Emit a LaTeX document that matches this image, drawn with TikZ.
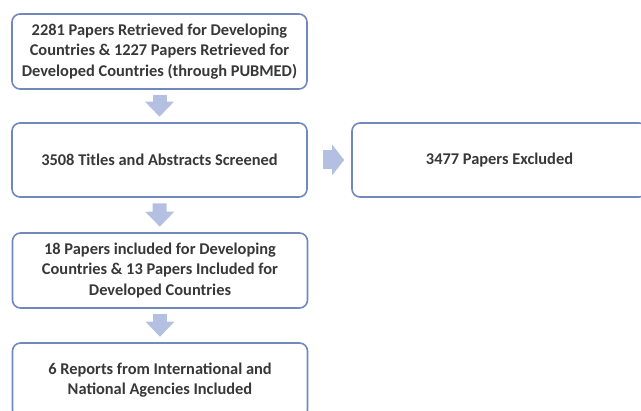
\documentclass[tikz,border=0pt]{standalone}
\usepackage{fontspec}
\setmainfont{Carlito}
\usetikzlibrary{arrows.meta}
\definecolor{boxline}{HTML}{7088BE}
\definecolor{flowfill}{HTML}{B3C0E2}
\definecolor{boxtext}{HTML}{383838}
\begin{document}
\begin{tikzpicture}[x=1pt, y=-1pt,
    stage/.style={draw=boxline, line width=1.6pt, rounded corners=8pt, fill=white,
      minimum width=295pt, minimum height=75pt, align=center, text=boxtext,
      font=\fontsize{16.4}{20.2}\selectfont\bfseries, inner sep=0pt},
    flow/.style={flowfill, line width=14pt, -{Triangle[width=28pt,length=15pt]},
      shorten <=5.5pt, shorten >=5.5pt}]
  \useasboundingbox (0,0) rectangle (641,411);
  \node[stage] (retrieved) at (159.5,51.5) {2281 Papers Retrieved for Developing\\Countries \& 1227 Papers Retrieved for\\Developed Countries (through PUBMED)};
  \node[stage, minimum height=74pt] (screened) at (159.5,160) {3508 Titles and Abstracts Screened};
  \node[stage, minimum height=74pt] (excluded) at (499.5,160) {3477 Papers Excluded};
  \node[stage] (included) at (160,270.5) {18 Papers included for Developing\\Countries \& 13 Papers Included for\\Developed Countries};
  \node[stage] (reports) at (160,380.5) {6 Reports from International and\\National Agencies Included};
  % block arrows between the stages
  \draw[flow] (retrieved) -- (screened);
  \draw[flow] (screened) -- (included);
  \draw[flow] (included) -- (reports);
  \draw[flow, line width=19pt, -{Triangle[width=30pt,length=12pt]}, shorten <=15pt, shorten >=7pt] (screened) -- (excluded);
\end{tikzpicture}
\end{document}
